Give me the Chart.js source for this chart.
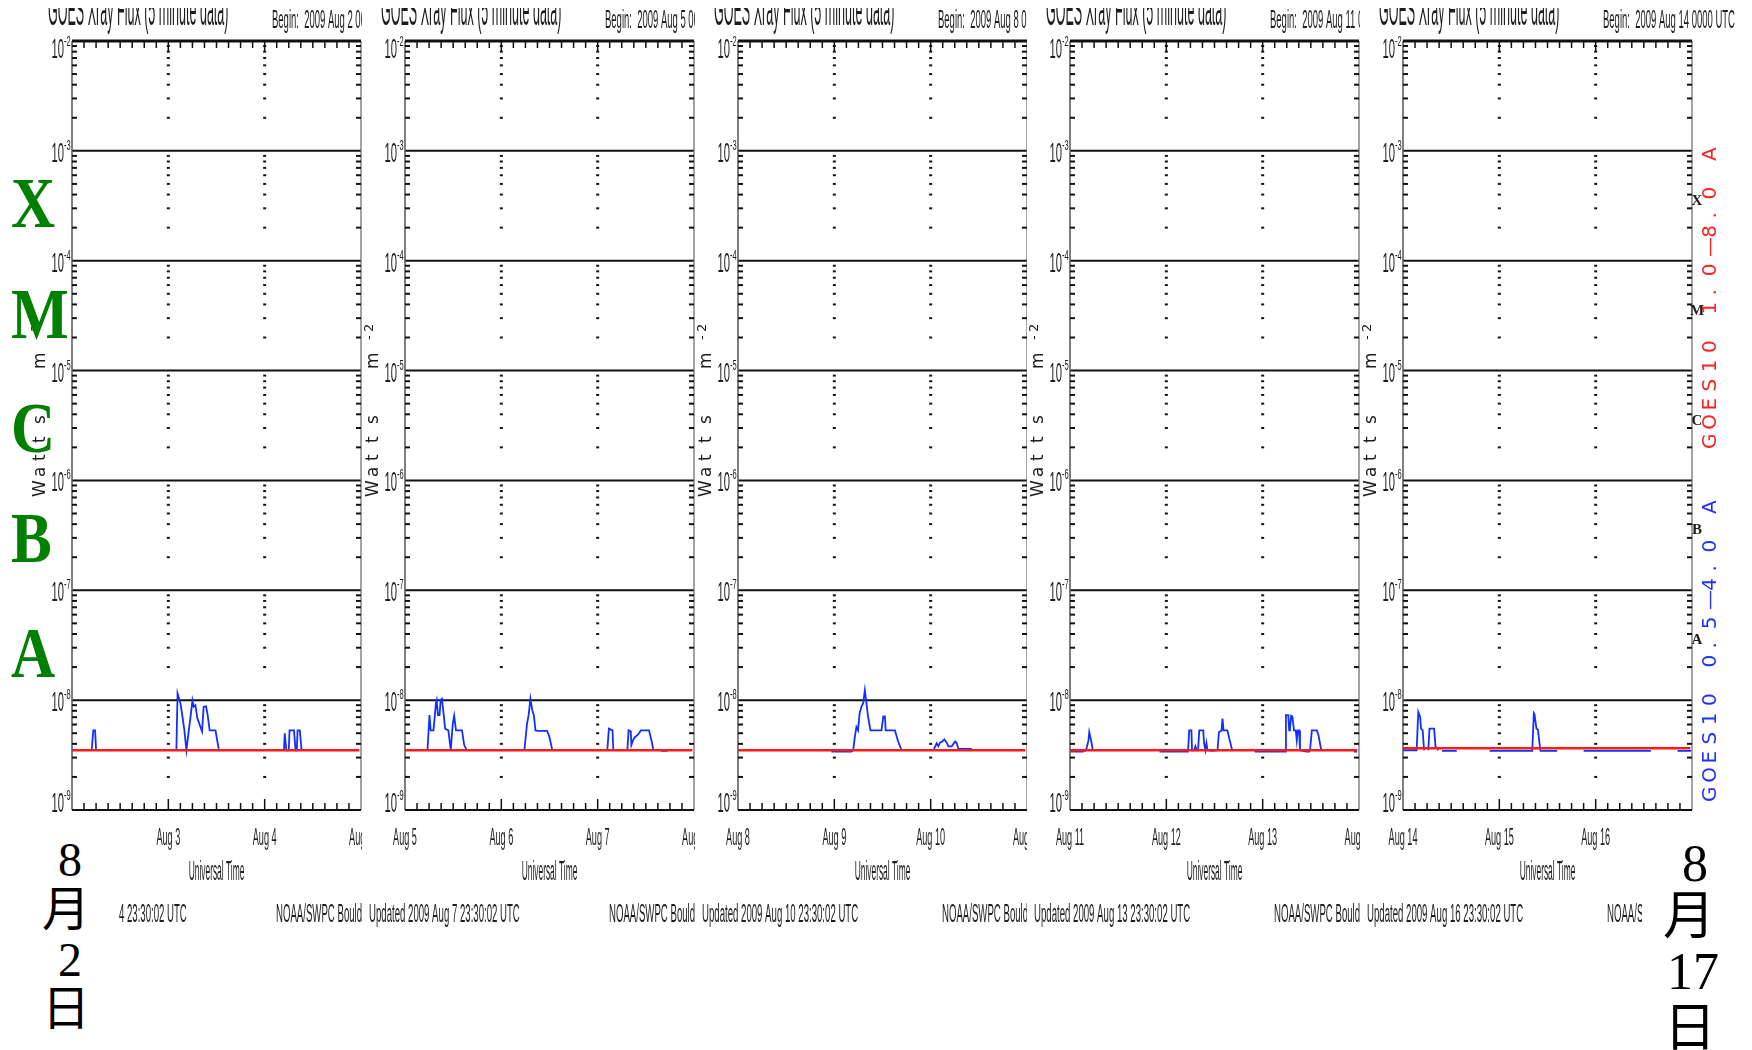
<!DOCTYPE html>
<html>
<head>
<meta charset="utf-8">
<script src="https://cdn.jsdelivr.net/npm/chart.js@4.4.1/dist/chart.umd.min.js"></script>
<style>
  body { margin: 0; background: #fff; }
  #stage { position: relative; width: 1752px; height: 1050px; overflow: hidden; background: #fff; }
  #stage canvas { position: absolute; top: 0; }
  .cls { position: absolute; left: 11px; z-index: 5; font: bold 72px "Liberation Serif", "Times New Roman", serif;
         line-height: 72px; color: #008000; transform: scaleX(0.85); transform-origin: left center; }
  .datebox { position: absolute; top: 825px; height: 225px; background: #fff; z-index: 5; }
  .ch { position: absolute; text-align: center; color: #000; white-space: nowrap; }
  .num { font-family: "Liberation Serif", "Times New Roman", serif; }
  .cjk { font-family: "Noto Sans CJK SC", sans-serif; }
</style>
</head>
<body>
<div id="stage">
  <div class="cls" style="top:167px">X</div>
  <div class="cls" style="top:278px">M</div>
  <div class="cls" style="top:392px">C</div>
  <div class="cls" style="top:502px">B</div>
  <div class="cls" style="top:617px">A</div>

  <div class="datebox" style="left:0; width:118px;">
    <div class="ch num" style="left:0; width:140px; top:11px; font-size:48px; line-height:48px;">8</div>
    <div class="ch cjk" style="left:0; width:132px; top:56px; font-size:48px; line-height:48px;">月</div>
    <div class="ch num" style="left:0; width:140px; top:111px; font-size:48px; line-height:48px;">2</div>
    <div class="ch cjk" style="left:0; width:132px; top:155px; font-size:48px; line-height:48px;">日</div>
  </div>
  <div class="datebox" style="left:1642px; width:110px;">
    <div class="ch num" style="left:0; width:106px; top:13px; font-size:52px; line-height:52px;">8</div>
    <div class="ch cjk" style="left:0; width:94px; top:61px; font-size:52px; line-height:52px;">月</div>
    <div class="ch num" style="left:0; width:102px; top:121px; font-size:52px; line-height:52px;">17</div>
    <div class="ch cjk" style="left:0; width:96px; top:173px; font-size:52px; line-height:52px;">日</div>
  </div>
</div>

<script>
// ---- data ----
const hourTicks = [0, 24, 48, 72];
const dayLabels = [
  ['Aug 2', 'Aug 3', 'Aug 4', 'Aug 5'],
  ['Aug 5', 'Aug 6', 'Aug 7', 'Aug 8'],
  ['Aug 8', 'Aug 9', 'Aug 10', 'Aug 11'],
  ['Aug 11', 'Aug 12', 'Aug 13', 'Aug 14'],
  ['Aug 14', 'Aug 15', 'Aug 16', 'Aug 17']
];
const beginDays = ['Aug 2', 'Aug 5', 'Aug 8', 'Aug 11', 'Aug 14'];
const updatedDays = ['Aug 4', 'Aug 7', 'Aug 10', 'Aug 13', 'Aug 16'];
const decadeExps = [-2, -3, -4, -5, -6, -7, -8, -9];
const flareClasses = ['X', 'M', 'C', 'B', 'A'];

// GOES10 1.0-8.0 A (red), flat floor level
const longHours = [0, 71.6];
const longLevel = [3.5e-9, 3.5e-9, 3.5e-9, 3.5e-9, 3.65e-9];

// GOES10 0.5-4.0 A (blue), null = no trace
const p1Hours = [4.9, 5.3, 5.75, 6.0, 6.1,
  26.0, 26.3, 27.0, 27.4, 28.0, 28.5, 29.1, 29.5, 30.0, 30.3, 30.75, 31.2, 32.0, 32.4, 32.8, 33.4, 33.8, 34.3, 35.75, 36.6, 36.9, 37.0,
  52.8, 53.0, 53.4, 54.0, 54.2, 55.3, 55.7, 56.0, 56.2, 56.75, 57.2];
const p1Flux = [3.5e-9, 5.3e-9, 5.3e-9, 3.5e-9, null,
  3.5e-9, 1.15e-8, 9.4e-9, 7.6e-9, 5.3e-9, 3.5e-9, 5.3e-9, 6.9e-9, 9.9e-9, 8.7e-9, 9.0e-9, 6.9e-9, 5.7e-9, 5.2e-9, 8.7e-9, 8.8e-9, 7.3e-9, 5.3e-9, 5.3e-9, 3.5e-9, 3.5e-9, null,
  3.5e-9, 5.0e-9, 3.5e-9, 3.5e-9, 5.3e-9, 5.3e-9, 3.5e-9, 3.5e-9, 5.3e-9, 5.3e-9, 3.5e-9];

const p2Hours = [5.6, 6.1, 6.4, 7.1, 7.7, 7.9, 8.2, 8.6, 8.9, 9.2, 9.6, 10.0, 10.8, 11.4, 11.9, 12.25, 12.7, 14.2, 14.75, 15.4, 15.5,
  29.75, 30.4, 30.8, 31.25, 31.7, 32.1, 32.5, 33.1, 35.4, 36.0, 36.7, 36.8,
  50.4, 50.8, 51.7, 51.9, 52.0,
  55.4, 55.7, 56.25, 56.4, 56.8, 57.25, 57.9, 58.3, 58.75, 60.8, 61.4, 61.9, 62.0,
  63.75, 65.4];
const p2Flux = [3.5e-9, 7.3e-9, 5.3e-9, 5.3e-9, 9.4e-9, 1.0e-8, 7.3e-9, 7.3e-9, 1.01e-8, 1.03e-8, 7.6e-9, 5.5e-9, 5.3e-9, 3.5e-9, 6.1e-9, 7.2e-9, 5.3e-9, 5.3e-9, 3.9e-9, 3.5e-9, null,
  3.5e-9, 6.1e-9, 7.3e-9, 1.03e-8, 8.1e-9, 7.3e-9, 5.3e-9, 5.25e-9, 5.25e-9, 4.6e-9, 3.5e-9, null,
  3.5e-9, 5.5e-9, 5.3e-9, 3.5e-9, null,
  3.5e-9, 5.3e-9, 5.2e-9, 3.9e-9, 4.3e-9, 4.6e-9, 4.8e-9, 5.0e-9, 5.3e-9, 5.3e-9, 4.3e-9, 3.5e-9, null,
  3.45e-9, 3.45e-9];

const p3Hours = [23.25, 28.25, 28.7, 29.1, 29.5, 29.9, 30.3, 30.75, 31.2, 31.6, 32.0, 32.4, 33.0, 35.75, 36.2, 36.6, 36.8, 39.1, 39.9, 40.75, 40.9,
  48.7, 49.5, 49.9, 50.3, 50.9, 51.4, 52.0, 52.4, 53.25, 54.1, 54.5, 54.9, 58.25];
const p3Flux = [3.4e-9, 3.4e-9, 3.5e-9, 4.6e-9, 5.7e-9, 5.3e-9, 7.6e-9, 8.7e-9, 9.4e-9, 1.23e-8, 9.4e-9, 7.1e-9, 5.3e-9, 5.3e-9, 7.1e-9, 7.1e-9, 5.3e-9, 5.3e-9, 4.2e-9, 3.5e-9, null,
  3.5e-9, 4.05e-9, 3.8e-9, 4.1e-9, 4.2e-9, 4.4e-9, 4.1e-9, 3.8e-9, 3.8e-9, 4.2e-9, 4.05e-9, 3.6e-9, 3.6e-9];

const p4Hours = [0.25, 3.2, 4.0, 4.6, 4.8, 5.25, 5.7, 5.8,
  22.3, 29.4, 29.7, 30.25, 30.4, 30.9, 31.25, 31.5, 31.9, 32.2, 33.2, 33.4, 33.75, 34.0, 34.25, 35.4, 36.75, 37.1, 37.75, 38.0, 38.25, 39.2, 39.8, 40.4, 40.5,
  46.0, 53.6, 53.8, 54.4, 54.6, 54.8, 55.1, 55.4, 55.8, 56.25, 56.5, 56.75, 57.1, 57.3, 58.9, 59.6, 59.8, 60.25, 61.5, 61.9, 62.6, 62.7,
  70.7, 71.5];
const p4Flux = [3.4e-9, 3.4e-9, 3.5e-9, 4.3e-9, 5.1e-9, 4.3e-9, 3.5e-9, null,
  3.4e-9, 3.4e-9, 5.3e-9, 5.3e-9, 3.5e-9, 3.5e-9, 3.8e-9, 3.5e-9, 3.5e-9, 5.3e-9, 5.3e-9, 4.05e-9, 3.5e-9, 4.05e-9, 3.5e-9, 3.45e-9, 3.5e-9, 5.1e-9, 5.3e-9, 6.8e-9, 5.3e-9, 5.3e-9, 4.3e-9, 3.5e-9, null,
  3.4e-9, 3.4e-9, 7.3e-9, 7.3e-9, 5.3e-9, 5.5e-9, 7.2e-9, 7.1e-9, 5.3e-9, 5.3e-9, 4.3e-9, 5.3e-9, 5.3e-9, 3.5e-9, 3.4e-9, 3.4e-9, 3.5e-9, 5.3e-9, 5.3e-9, 4.8e-9, 3.5e-9, null,
  3.4e-9, 3.4e-9];

const p5Hours = [0, 3.4, 3.8, 4.25, 4.5, 4.9, 5.25, 5.4,
  6.3, 6.6, 7.75, 8.1, 8.8, 8.9,
  9.7, 13.4, 13.5,
  21.6, 32.2, 32.6, 32.75, 33.25, 33.6, 34.1, 34.25, 38.4, 38.5,
  45.0, 61.75, 61.9,
  68.4, 71.75];
const p5Flux = [3.5e-9, 3.5e-9, 7.8e-9, 7.05e-9, 5.5e-9, 5.3e-9, 3.5e-9, null,
  3.5e-9, 5.5e-9, 5.5e-9, 3.8e-9, 3.5e-9, null,
  3.45e-9, 3.45e-9, null,
  3.45e-9, 3.45e-9, 7.6e-9, 7.45e-9, 5.5e-9, 5.4e-9, 3.8e-9, 3.45e-9, 3.45e-9, null,
  3.45e-9, 3.45e-9, null,
  3.45e-9, 3.45e-9];

const shortHours = [p1Hours, p2Hours, p3Hours, p4Hours, p5Hours];
const shortFlux = [p1Flux, p2Flux, p3Flux, p4Flux, p5Flux];

// ---- layout ----
const plotLefts = [72, 405, 738, 1070, 1403];
const plotWidth = 289;
const plotTop = 41;
const plotBottom = 810;
const padLeft = 43;
const ink = '#1d1d1d';

// condensed text (the GOES plots use a tall narrow font)
function sText(ctx, str, x, y, size, sx, align) {
  ctx.save();
  ctx.font = size + 'px "Liberation Sans", Arial, sans-serif';
  const w = ctx.measureText(str).width * sx;
  const x0 = align === 'center' ? x - w / 2 : align === 'right' ? x - w : x;
  ctx.translate(x0, y);
  ctx.scale(sx, 1);
  ctx.textAlign = 'left';
  ctx.textBaseline = 'alphabetic';
  ctx.fillText(str, 0, 0);
  ctx.restore();
}

// characters stacked bottom-to-top, rotated 90 deg
function vChars(ctx, chars, positions, x, yBottom, font, color, raise) {
  ctx.save();
  ctx.fillStyle = color;
  ctx.translate(x, yBottom);
  ctx.rotate(-Math.PI / 2);
  ctx.textBaseline = 'alphabetic';
  chars.forEach((c, k) => {
    ctx.font = Array.isArray(font) ? font[k] : font;
    ctx.fillText(c, positions[k], raise ? -raise[k] : 0);
  });
  ctx.restore();
}

function seg(ctx, x1, y1, x2, y2) {
  ctx.beginPath();
  ctx.moveTo(x1, y1);
  ctx.lineTo(x2, y2);
  ctx.stroke();
}

const goesFrame = {
  id: 'goesFrame',
  beforeDraw(chart) {
    const ctx = chart.ctx;
    ctx.save();
    ctx.fillStyle = '#fff';
    ctx.fillRect(0, 0, chart.width, chart.height);
    ctx.restore();
  },
  beforeDatasetsDraw(chart) {
    const { ctx, chartArea: a, scales: { y } } = chart;
    ctx.save();
    ctx.strokeStyle = '#111';
    ctx.lineWidth = 2;
    for (let e = -8; e <= -3; e++) {
      const py = y.getPixelForValue(Math.pow(10, e));
      seg(ctx, a.left, py, a.right, py);
    }
    ctx.restore();
  },
  afterDatasetsDraw(chart) {
    const i = +chart.canvas.dataset.panel;
    const { ctx, chartArea: a, scales: { x, y } } = chart;
    ctx.save();

    // frame
    ctx.strokeStyle = '#555';
    ctx.lineWidth = 1.5;
    seg(ctx, a.left, a.top, a.left, a.bottom);
    ctx.strokeStyle = '#666';
    ctx.lineWidth = 1.2;
    seg(ctx, a.right, a.top, a.right, a.bottom);
    ctx.strokeStyle = '#111';
    ctx.lineWidth = 3;
    seg(ctx, a.left, a.top, a.right, a.top);
    ctx.lineWidth = 2;
    seg(ctx, a.left, a.bottom, a.right, a.bottom);

    // log minor ticks on both sides and the dotted day lines
    ctx.strokeStyle = '#111';
    ctx.lineWidth = 2;
    for (let e = -9; e < -2; e++) {
      for (let k = 2; k <= 9; k++) {
        const py = y.getPixelForValue(k * Math.pow(10, e));
        seg(ctx, a.left, py, a.left + 5, py);
        seg(ctx, a.right - 5, py, a.right, py);
        [24, 48].forEach(h => {
          const px = x.getPixelForValue(h);
          seg(ctx, px - 1.5, py, px + 1.5, py);
        });
      }
    }
    // time ticks every 3 h
    ctx.lineWidth = 1.5;
    for (let h = 3; h < 72; h += 3) {
      const px = x.getPixelForValue(h);
      const day = h % 24 === 0;
      seg(ctx, px, a.bottom, px, a.bottom - (day ? 11 : 7));
      seg(ctx, px, a.top, px, a.top + (day ? 10 : 7));
    }

    ctx.fillStyle = ink;
    // y tick labels 10^-n
    decadeExps.forEach((e, k) => {
      const py = y.getPixelForValue(Math.pow(10, e));
      const base = k === 0 ? py + 17 : k === decadeExps.length - 1 ? py + 2 : py + 11;
      sText(ctx, '10', a.left - 8, base, 28, 0.4, 'right');
      sText(ctx, String(e), a.left - 8, base - 12, 15, 0.5, 'left');
    });

    // x tick labels and axis title
    hourTicks.forEach((h, k) => {
      sText(ctx, dayLabels[i][k], x.getPixelForValue(h), 845, 24, 0.38, 'center');
    });
    sText(ctx, 'Universal Time', (a.left + a.right) / 2, 880, 28, 0.3, 'center');

    // footer
    sText(ctx, 'Updated 2009 ' + updatedDays[i] + ' 23:30:02 UTC', a.left - 36, 922, 26, 0.37, 'left');
    sText(ctx, 'NOAA/SWPC Boulder, CO USA', a.left + 204, 922, 26, 0.37, 'left');

    // header, cut off at the top of the scan
    ctx.save();
    ctx.beginPath();
    ctx.rect(0, 8, chart.width, 40);
    ctx.clip();
    sText(ctx, 'GOES Xray Flux (5 minute data)', a.left - 24, 25, 44, 0.285, 'left');
    sText(ctx, 'Begin:  2009 ' + beginDays[i] + ' 0000 UTC', a.left + 200, 28, 26, 0.365, 'left');
    ctx.restore();

    // y axis title
    const wf = '17px "DejaVu Sans"', sf = '13px "DejaVu Sans"';
    vChars(ctx, ['W', 'a', 't', 't', 's', 'm', '-', '2'], [0, 20, 36, 54, 73, 128, 157, 165],
      a.left - 27, 497, [wf, wf, wf, wf, wf, wf, sf, sf],
      ink, [0, 0, 0, 0, 0, 0, 5, 5]);

    // last panel: flare classes and channel labels
    if (i === 4) {
      ctx.font = 'bold 15px "Liberation Serif", serif';
      ctx.textAlign = 'center';
      flareClasses.forEach((c, k) => {
        const lo = Math.pow(10, -4 - k);
        const py = (y.getPixelForValue(lo) + y.getPixelForValue(lo * 10)) / 2;
        ctx.fillText(c, a.right + 5, py - 1);
      });
      ctx.textAlign = 'left';
      const pitch = Array.from({ length: 16 }, (_, k) => k * 19.2);
      vChars(ctx, Array.from('GOES10 1.0\u20148.0 A'), pitch, a.right + 24, 449, '20px "DejaVu Sans"', '#ff2020');
      vChars(ctx, Array.from('GOES10 0.5\u20144.0 A'), pitch, a.right + 24, 802, '20px "DejaVu Sans"', '#2030ff');
    }
    ctx.restore();
  }
};

const stage = document.getElementById('stage');
plotLefts.forEach((left, i) => {
  const cv = document.createElement('canvas');
  const cLeft = left - padLeft;
  const w = i === 4 ? 1752 - cLeft : 380;
  cv.width = w;
  cv.height = 1050;
  cv.style.left = cLeft + 'px';
  cv.style.width = w + 'px';
  cv.style.height = '1050px';
  cv.dataset.panel = i;
  stage.appendChild(cv);

  new Chart(cv, {
    type: 'line',
    data: {
      datasets: [
        {
          label: 'GOES10 1.0-8.0 A',
          data: longHours.map(h => ({ x: h, y: longLevel[i] })),
          borderColor: '#ff1a1a',
          borderWidth: 2.5,
          pointRadius: 0
        },
        {
          label: 'GOES10 0.5-4.0 A',
          data: shortHours[i].map((h, k) => ({ x: h, y: shortFlux[i][k] })),
          borderColor: '#1030ff',
          borderWidth: 1.8,
          pointRadius: 0,
          spanGaps: false
        }
      ]
    },
    options: {
      responsive: false,
      animation: false,
      layout: {
        padding: { left: padLeft, right: w - padLeft - plotWidth, top: plotTop, bottom: 1050 - plotBottom }
      },
      scales: {
        x: { type: 'linear', min: 0, max: 72, display: false },
        y: { type: 'logarithmic', min: 1e-9, max: 1e-2, display: false }
      },
      plugins: {
        legend: { display: false },
        tooltip: { enabled: false }
      }
    },
    plugins: [goesFrame]
  });
});
</script>
</body>
</html>
